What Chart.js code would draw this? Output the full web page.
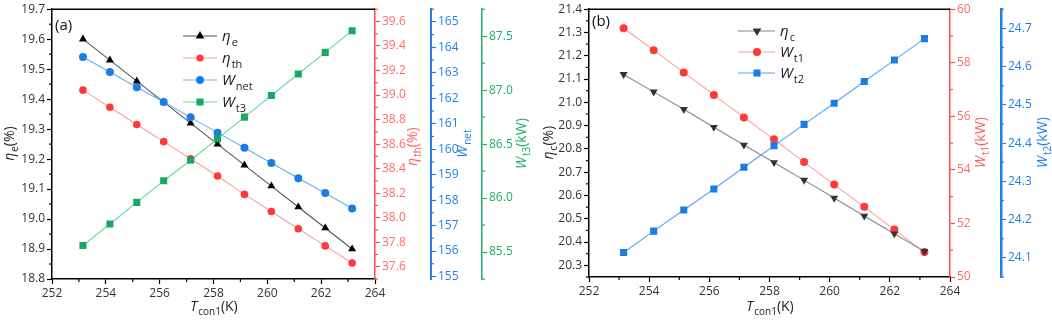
<!DOCTYPE html>
<html>
<head>
<meta charset="utf-8">
<script src="https://cdn.jsdelivr.net/npm/chart.js@4.4.0/dist/chart.umd.min.js"></script>
<style>
  html, body { margin: 0; padding: 0; background: #fff; }
  #wrap { position: relative; width: 1052px; height: 326px; }
  #ca { position: absolute; left: 0; top: 0; }
  #cb { position: absolute; left: 540px; top: 0; }
</style>
</head>
<body>
<div id="wrap">
  <canvas id="ca" width="540" height="326"></canvas>
  <canvas id="cb" width="512" height="326"></canvas>
</div>
<script>
// condenser temperature, K
const tCon1 = [253.15, 254.15, 255.15, 256.15, 257.15, 258.15, 259.15, 260.15, 261.15, 262.15, 263.15];
const xTicks = [252, 254, 256, 258, 260, 262, 264];

// panel (a)
const etaE  = [19.60, 19.53, 19.46, 19.39, 19.32, 19.25, 19.18, 19.11, 19.04, 18.97, 18.90];
const etaTh = [39.04, 38.90, 38.76, 38.62, 38.48, 38.34, 38.19, 38.05, 37.91, 37.77, 37.63];
const wNet  = [163.62, 163.03, 162.43, 161.85, 161.25, 160.65, 160.06, 159.46, 158.86, 158.28, 157.67];
const wT3   = [85.56, 85.76, 85.96, 86.16, 86.35, 86.55, 86.75, 86.95, 87.15, 87.35, 87.55];

// panel (b)
const etaC = [21.12, 21.045, 20.97, 20.893, 20.817, 20.742, 20.666, 20.589, 20.512, 20.436, 20.36];
const wT1  = [59.29, 58.47, 57.64, 56.80, 55.96, 55.14, 54.29, 53.45, 52.62, 51.77, 50.93];
const wT2  = [24.114, 24.17, 24.225, 24.28, 24.337, 24.393, 24.449, 24.504, 24.561, 24.617, 24.673];

// tick labels
const etaETicks  = [18.8, 18.9, 19.0, 19.1, 19.2, 19.3, 19.4, 19.5, 19.6, 19.7];
const etaThTicks = [37.6, 37.8, 38.0, 38.2, 38.4, 38.6, 38.8, 39.0, 39.2, 39.4, 39.6];
const wNetTicks  = [155, 156, 157, 158, 159, 160, 161, 162, 163, 164, 165];
const wT3Ticks   = [85.5, 86.0, 86.5, 87.0, 87.5];
const etaCTicks  = [20.3, 20.4, 20.5, 20.6, 20.7, 20.8, 20.9, 21.0, 21.1, 21.2, 21.3, 21.4];
const wT1Ticks   = [50, 52, 54, 56, 58, 60];
const wT2Ticks   = [24.1, 24.2, 24.3, 24.4, 24.5, 24.6, 24.7];

const FONT = '"Open Sans", "DejaVu Sans", sans-serif';
const RED = '#ff4d4d', BLUE = '#1f80e6', GREEN = '#1cb06c';

function pts(ys) {
  return tCon1.map((x, i) => ({ x: x, y: ys[i] }));
}

function axisY(pos, min, max, tickVals, color, labelColor, width, dec, weight, bw) {
  return {
    type: 'linear', position: pos, min: min, max: max, weight: weight,
    afterBuildTicks: s => { s.ticks = tickVals.map(v => ({ value: v })); },
    afterFit: s => { s.width = width; },
    ticks: {
      color: labelColor, padding: 2, autoSkip: false,
      font: { family: FONT, size: 12 },
      callback: v => v.toFixed(dec)
    },
    grid: { display: true, drawOnChartArea: false, drawTicks: true, tickLength: 5, tickColor: color, tickWidth: 1.2 },
    border: { display: true, color: color, width: bw || 1.5 }
  };
}

function axisX() {
  return {
    type: 'linear', position: 'bottom', min: 252, max: 264,
    afterBuildTicks: s => { s.ticks = xTicks.map(v => ({ value: v })); },
    afterFit: s => { s.height = 36; },
    ticks: { color: '#333', padding: 2, autoSkip: false, maxRotation: 0, font: { family: FONT, size: 12 } },
    grid: { display: true, drawOnChartArea: false, drawTicks: true, tickLength: 5, tickColor: '#000', tickWidth: 1.2 },
    border: { display: true, color: '#000', width: 1.5 }
  };
}

// text with italic / subscript pieces
function drawRich(ctx, parts, x, y, size, color, vertical, alignLeft) {
  ctx.save();
  ctx.translate(x, y);
  if (vertical) ctx.rotate(-Math.PI / 2);
  ctx.fillStyle = color;
  ctx.textBaseline = 'alphabetic';
  ctx.textAlign = 'left';
  const fonts = parts.map(p => p[1] === 's' ? Math.round(size * 0.72) + 'px ' + FONT
    : (p[1] === 'i' ? 'italic ' + size + 'px ' + FONT : size + 'px ' + FONT));
  let w = 0;
  parts.forEach((p, i) => { ctx.font = fonts[i]; w += ctx.measureText(p[0]).width; });
  let cx = alignLeft ? 0 : -w / 2;
  const base = size * 0.36;
  parts.forEach((p, i) => {
    ctx.font = fonts[i];
    ctx.fillText(p[0], cx, base + (p[1] === 's' ? size * 0.28 : 0));
    cx += ctx.measureText(p[0]).width + (p[1] === 'i' ? 1 : 0);
  });
  ctx.restore();
}

function drawMarker(ctx, style, x, y, r, color, rot) {
  ctx.save();
  ctx.fillStyle = color;
  ctx.translate(x, y);
  if (rot) ctx.rotate(rot);
  ctx.beginPath();
  if (style === 'circle') {
    ctx.arc(0, 0, r, 0, Math.PI * 2);
  } else if (style === 'rect') {
    const s = r * Math.SQRT1_2;
    ctx.rect(-s, -s, 2 * s, 2 * s);
  } else {
    ctx.moveTo(0, -r);
    ctx.lineTo(r * 0.866, r * 0.5);
    ctx.lineTo(-r * 0.866, r * 0.5);
    ctx.closePath();
  }
  ctx.fill();
  ctx.restore();
}

function minorVals(tv, min, max) {
  const step = tv[1] - tv[0];
  const out = [];
  for (let v = tv[0] - step / 2; v <= max + 1e-9; v += step) {
    if (v >= min - 1e-9) out.push(v);
  }
  return out;
}

// decorations: box top, minor ticks, titles, legend, panel label
function decor(cfg) {
  return {
    id: 'decor',
    afterDraw(chart) {
      const ctx = chart.ctx, a = chart.chartArea;
      ctx.save();
      ctx.strokeStyle = '#000';
      ctx.lineWidth = 1.5;
      ctx.beginPath();
      ctx.moveTo(a.left, a.top);
      ctx.lineTo(a.right, a.top);
      ctx.stroke();

      // minor ticks
      Object.keys(cfg.minor).forEach(id => {
        const s = chart.scales[id];
        const m = cfg.minor[id];
        ctx.strokeStyle = m.color;
        ctx.lineWidth = 1.2;
        minorVals(m.ticks, s.min, s.max).forEach(v => {
          const p = s.getPixelForValue(v);
          ctx.beginPath();
          if (id === 'x') { ctx.moveTo(p, s.top); ctx.lineTo(p, s.top + 3); }
          else if (s.position === 'left') { ctx.moveTo(s.right, p); ctx.lineTo(s.right - 3, p); }
          else { ctx.moveTo(s.left, p); ctx.lineTo(s.left + 3, p); }
          ctx.stroke();
        });
      });
      ctx.restore();

      // axis titles
      const cy = (a.top + a.bottom) / 2;
      cfg.titles.forEach(t => drawRich(ctx, t.parts, t.x, cy + (t.dy || 0), 14, t.color, true));
      drawRich(ctx, [['T', 'i'], ['con1', 's'], ['(K)', '']], (a.left + a.right) / 2, 306, 14, '#222', false);

      // legend
      cfg.legend.forEach((e, i) => {
        const y = cfg.legendY[i];
        ctx.save();
        ctx.strokeStyle = e.line;
        ctx.lineWidth = 1.2;
        ctx.beginPath();
        ctx.moveTo(cfg.legendX[0], y);
        ctx.lineTo(cfg.legendX[2], y);
        ctx.stroke();
        ctx.restore();
        drawMarker(ctx, e.style, cfg.legendX[1], y, e.r, e.fill, e.rot);
        drawRich(ctx, e.parts, cfg.legendX[3], y, 15, '#222', false, true);
      });

      ctx.save();
      ctx.fillStyle = '#111';
      ctx.font = '15px ' + FONT;
      ctx.textBaseline = 'middle';
      ctx.fillText(cfg.panel, a.left + 3, cfg.panelY);
      ctx.restore();
    }
  };
}

function series(ys, axis, line, fill, style, r, rot) {
  return {
    data: pts(ys), yAxisID: axis,
    borderColor: line, borderWidth: 1.1,
    pointStyle: style, pointRadius: r, pointRotation: rot || 0,
    pointBackgroundColor: fill, pointBorderColor: fill, pointBorderWidth: 0,
    tension: 0
  };
}

const base = {
  responsive: false, animation: false,
  plugins: { legend: { display: false }, tooltip: { enabled: false } }
};

// ---- panel (a)
new Chart(document.getElementById('ca'), {
  type: 'line',
  data: {
    datasets: [
      series(wT3, 'yW3', '#6fd6a3', '#19a862', 'rect', 5),
      series(etaTh, 'yTh', '#ff9c9c', '#ff3838', 'circle', 3.8),
      series(wNet, 'yNet', '#6aaef2', '#1a7de6', 'circle', 4),
      series(etaE, 'yE', '#555', '#000', 'triangle', 4.6)
    ]
  },
  options: Object.assign({}, base, {
    layout: { padding: { left: 0, right: 10, top: 9, bottom: 11 } },
    scales: {
      x: axisX(),
      yE: axisY('left', 18.8, 19.7, etaETicks, '#000', '#333', 52, 1, 0),
      yTh: axisY('right', 37.5, 39.7, etaThTicks, RED, '#ff6b6b', 56, 1, 1),
      yNet: axisY('right', 154.9, 165.5, wNetTicks, BLUE, BLUE, 51, 0, 2, 2),
      yW3: axisY('right', 85.25, 87.75, wT3Ticks, GREEN, GREEN, 48, 1, 3)
    }
  }),
  plugins: [decor({
    minor: {
      x: { ticks: xTicks, color: '#000' },
      yE: { ticks: etaETicks, color: '#000' },
      yTh: { ticks: etaThTicks, color: RED },
      yNet: { ticks: wNetTicks, color: BLUE },
      yW3: { ticks: wT3Ticks, color: GREEN }
    },
    titles: [
      { parts: [['η', 'i'], ['e', 's'], ['(%)', '']], x: 9, color: '#222' },
      { parts: [['η', 'i'], ['th', 's'], ['(%)', '']], x: 412, color: '#ff5a5a', dy: 3 },
      { parts: [['W', 'i'], ['net', 's']], x: 462, color: BLUE },
      { parts: [['W', 'i'], ['t3', 's'], ['(kW)', '']], x: 521, color: GREEN }
    ],
    legend: [
      { parts: [['η', 'i'], ['e', 's']], line: '#555', fill: '#000', style: 'triangle', r: 5 },
      { parts: [['η', 'i'], ['th', 's']], line: '#ff9c9c', fill: '#ff3838', style: 'circle', r: 3.6 },
      { parts: [['W', 'i'], ['net', 's']], line: '#6aaef2', fill: '#1a7de6', style: 'circle', r: 4 },
      { parts: [['W', 'i'], ['t3', 's']], line: '#6fd6a3', fill: '#19a862', style: 'rect', r: 5 }
    ],
    legendX: [183, 200, 217, 222],
    legendY: [36, 58, 80, 102],
    panel: '(a)', panelY: 26
  })]
});

// ---- panel (b)
new Chart(document.getElementById('cb'), {
  type: 'line',
  data: {
    datasets: [
      series(wT2, 'yT2', '#5aa5f0', '#1a7de6', 'rect', 5),
      series(etaC, 'yC', '#888', '#333', 'triangle', 4.6, 180),
      series(wT1, 'yT1', '#ff9c9c', '#ff3838', 'circle', 4)
    ]
  },
  options: Object.assign({}, base, {
    layout: { padding: { left: 0, right: 3, top: 6, bottom: 13 } },
    scales: {
      x: axisX(),
      yC: axisY('left', 20.25, 21.4, etaCTicks, '#000', '#333', 49, 1, 0),
      yT1: axisY('right', 50, 60, wT1Ticks, RED, '#ff6b6b', 51, 0, 1),
      yT2: axisY('right', 24.05, 24.75, wT2Ticks, BLUE, BLUE, 48, 1, 2, 2.5)
    }
  }),
  plugins: [decor({
    minor: {
      x: { ticks: xTicks, color: '#000' },
      yC: { ticks: etaCTicks, color: '#000' },
      yT1: { ticks: wT1Ticks, color: RED },
      yT2: { ticks: wT2Ticks, color: BLUE }
    },
    titles: [
      { parts: [['η', 'i'], ['c', 's'], ['(%)', '']], x: 8, color: '#222' },
      { parts: [['W', 'i'], ['t1', 's'], ['(kW)', '']], x: 440, color: '#ff5a5a' },
      { parts: [['W', 'i'], ['t2', 's'], ['(kW)', '']], x: 502, color: BLUE }
    ],
    legend: [
      { parts: [['η', 'i'], ['c', 's']], line: '#888', fill: '#333', style: 'triangle', r: 5, rot: Math.PI },
      { parts: [['W', 'i'], ['t1', 's']], line: '#ff9c9c', fill: '#ff3838', style: 'circle', r: 4 },
      { parts: [['W', 'i'], ['t2', 's']], line: '#5aa5f0', fill: '#1a7de6', style: 'rect', r: 5 }
    ],
    legendX: [198, 217, 235, 240],
    legendY: [31, 52, 73],
    panel: '(b)', panelY: 22
  })]
});
</script>
</body>
</html>
